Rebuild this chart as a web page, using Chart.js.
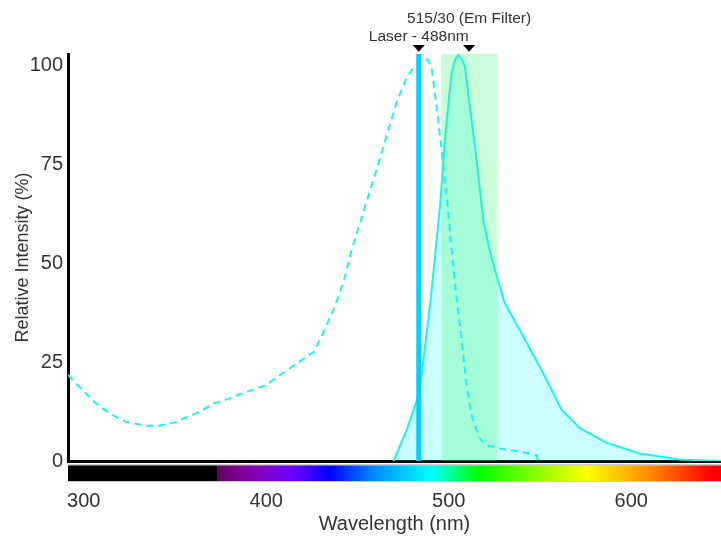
<!DOCTYPE html>
<html>
<head>
<meta charset="utf-8">
<script src="https://cdn.jsdelivr.net/npm/chart.js@4/dist/chart.umd.min.js"></script>
<style>
  html, body { margin: 0; padding: 0; background: #fff; }
</style>
</head>
<body>
<canvas id="spectra" width="721" height="538"></canvas>
<script>
// excitation spectrum (dashed)
const exNm = [300, 306, 314, 322, 331, 342, 349, 358, 362, 371, 378, 382, 391, 396, 406, 419, 432, 437, 443, 448,
  452, 467, 476, 481, 485, 488, 491, 493, 495, 497.5, 500, 503, 505.5, 508, 511, 513.5, 516, 520, 524, 531, 542, 551, 552];
const exVal = [21.8, 18.8, 15, 12.1, 9.9, 8.9, 8.9, 9.9, 10.8, 12.5, 14.6, 15, 16.7, 17.5, 19.2, 23.5, 27.7, 32.7, 39.1, 45.8,
  53.4, 76.2, 90.6, 96.5, 99.5, 101, 101.8, 101.5, 99, 90, 79.6, 66.9, 54.3, 42.5, 30.6, 19.7, 12.1, 6.2, 4.1, 3.2, 2.4, 1.5, 0];
// emission spectrum (filled)
const emNm = [474.5, 481.5, 487, 489.6, 494, 496.7, 499.4, 502, 505.6, 507.5, 509.2, 511, 512.8, 515.4, 519, 522.6,
  526, 528.8, 533.8, 544, 554.7, 564.6, 574.4, 588.7, 606.5, 628, 650];
const emVal = [0, 7.8, 15.4, 22.2, 39.1, 51.7, 64.4, 81.3, 98.2, 101.5, 102.8, 101.8, 99.8, 89.7, 76.2, 61,
  53.4, 48.4, 40.3, 31.5, 22.2, 12.9, 8.3, 4.6, 1.9, 0.4, 0];

const laserNm = 488;
const filterCenter = 515;
const filterWidth = 30;
const markerNm = [488, 515];
const markerLabels = ["Laser - 488nm", "515/30 (Em Filter)"];

const xTicks = [300, 400, 500, 600];
const yTicks = [0, 25, 50, 75, 100];

// visible spectrum colour bar
const barNm = [300, 380, 380, 390, 400, 410, 420, 430, 440, 465, 495, 520, 578, 612, 645, 650];
const barColors = ["#000000", "#000000", "#610061", "#79008c", "#8200b5", "#7e00da", "#6a00ff", "#3d00ff",
  "#0000ff", "#0090ff", "#00ffff", "#00ff00", "#ffff00", "#ff8a00", "#ff0000", "#ff0000"];

Chart.defaults.font.family = '"Liberation Sans", Arial, sans-serif';
Chart.defaults.color = "#333";

const toPoints = (xs, ys) => xs.map((x, i) => ({ x: x, y: ys[i] }));
const yMax = 103;

// colour bar + markers
const extras = {
  id: "extras",
  afterDraw(chart) {
    const ctx = chart.ctx;
    const x = chart.scales.x;
    const left = x.getPixelForValue(300);
    const right = x.getPixelForValue(650);
    ctx.save();
    ctx.fillStyle = "#cccccc";
    ctx.fillRect(left, 464, right - left, 18);
    const grad = ctx.createLinearGradient(left, 0, right, 0);
    barNm.forEach((nm, i) => grad.addColorStop((nm - 300) / 350, barColors[i]));
    ctx.fillStyle = grad;
    ctx.fillRect(left, 465.5, right - left, 15.5);

    // markers above plot
    const levels = [41, 23.3];
    ctx.font = '15.5px "Liberation Sans", Arial, sans-serif';
    ctx.textAlign = "center";
    ctx.textBaseline = "alphabetic";
    markerNm.forEach((nm, i) => {
      const px = x.getPixelForValue(nm);
      ctx.fillStyle = "#000";
      ctx.beginPath();
      ctx.moveTo(px - 6, 45);
      ctx.lineTo(px + 6, 45);
      ctx.lineTo(px, 51.7);
      ctx.closePath();
      ctx.fill();
      ctx.fillStyle = "#333";
      ctx.fillText(markerLabels[i], px, levels[i]);
    });
    ctx.restore();
  }
};

new Chart(document.getElementById("spectra"), {
  type: "line",
  plugins: [extras],
  data: {
    datasets: [
      {
        // emission
        data: toPoints(emNm, emVal),
        xAxisID: "x",
        borderColor: "#1ff2f2",
        borderWidth: 2,
        backgroundColor: "rgba(0,255,255,0.2)",
        fill: "origin",
        pointRadius: 0,
        tension: 0,
        order: 4
      },
      {
        // emission filter band
        data: [{ x: filterCenter - filterWidth / 2, y: yMax }, { x: filterCenter + filterWidth / 2, y: yMax }],
        xAxisID: "x",
        borderWidth: 0,
        backgroundColor: "rgba(58,244,117,0.275)",
        fill: "origin",
        pointRadius: 0,
        order: 3
      },
      {
        // excitation
        data: toPoints(exNm, exVal),
        xAxisID: "x",
        borderColor: "#1ff2f2",
        borderWidth: 2,
        borderDash: [7, 5],
        fill: false,
        pointRadius: 0,
        tension: 0,
        order: 2
      },
      {
        // laser line
        data: [{ x: laserNm, y: 0 }, { x: laserNm, y: yMax }],
        xAxisID: "x",
        borderColor: "#00d2ff",
        borderWidth: 5,
        fill: false,
        pointRadius: 0,
        order: 1
      }
    ]
  },
  options: {
    responsive: false,
    animation: false,
    layout: { padding: { top: 54, left: 0, right: 0, bottom: 0 } },
    plugins: { legend: { display: false }, tooltip: { enabled: false } },
    scales: {
      x: { type: "linear", min: 300, max: 650, display: false },
      xLabels: {
        type: "linear",
        position: "bottom",
        min: 291.4,
        max: 649.2,
        afterBuildTicks: (s) => { s.ticks = xTicks.map((v) => ({ value: v })); },
        afterFit: (s) => { s.height = 77; },
        grid: { display: true, drawOnChartArea: false, drawTicks: false },
        border: { color: "#000", width: 3 },
        ticks: { padding: 28, maxRotation: 0, autoSkip: false, font: { size: 20 }, color: "#333" },
        title: { display: true, text: "Wavelength (nm)", font: { size: 20 }, color: "#333", padding: { top: 0, bottom: 2 } }
      },
      y: {
        min: 0,
        max: yMax,
        afterBuildTicks: (s) => { s.ticks = yTicks.map((v) => ({ value: v })); },
        afterFit: (s) => { s.width = 68; },
        grid: { display: true, drawOnChartArea: false, drawTicks: false },
        border: { color: "#000", width: 3 },
        ticks: { padding: 5, font: { size: 20 }, color: "#333" },
        title: { display: true, text: "Relative Intensity (%)", font: { size: 18 }, color: "#333", padding: { top: 12, bottom: 0 } }
      }
    }
  }
});
</script>
</body>
</html>
